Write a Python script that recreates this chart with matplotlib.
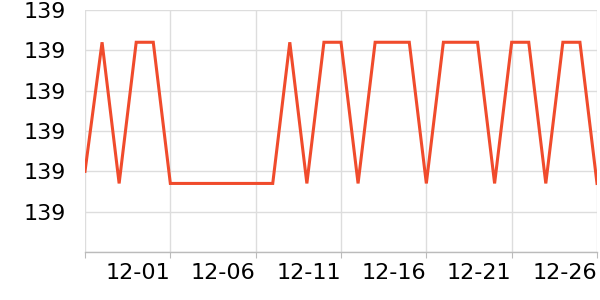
import numpy as np
import matplotlib
matplotlib.use('Agg')
import matplotlib.pyplot as plt
from matplotlib.ticker import FuncFormatter

# --- Data ---
dates = ['11-26', '11-27', '11-28', '11-29', '11-30', '12-01', '12-02', '12-03',
         '12-04', '12-05', '12-06', '12-07', '12-08', '12-09', '12-10', '12-11',
         '12-12', '12-13', '12-14', '12-15', '12-16', '12-17', '12-18', '12-19',
         '12-20', '12-21', '12-22', '12-23', '12-24', '12-25', '12-26']
values = [138.990, 139.022, 138.987, 139.022, 139.022, 138.987, 138.987, 138.987,
          138.987, 138.987, 138.987, 138.987, 139.022, 138.987, 139.022, 139.022,
          138.987, 139.022, 139.022, 139.022, 138.987, 139.022, 139.022, 139.022,
          138.987, 139.022, 139.022, 138.987, 139.022, 139.022, 138.987]
y_ticks = [138.97, 138.98, 138.99, 139.00, 139.01, 139.02, 139.03]

x = np.arange(len(dates))

fig = plt.figure(figsize=(6, 3), dpi=100)
ax = fig.add_axes([85 / 600, 48 / 300, 512 / 600, 242 / 300])

ax.plot(x, values, color='#f04b2c', linewidth=2.2, solid_joinstyle='miter', zorder=3)

ax.set_xlim(0, len(dates) - 1)
ax.set_ylim(y_ticks[0], y_ticks[-1])

# ticks every 5 days, first one without a label
tick_idx = list(range(0, len(dates), 5))
ax.set_xticks(tick_idx)
ax.set_xticklabels([''] + [dates[i] for i in tick_idx[1:]], ha='right')
ax.set_yticks(y_ticks)
ax.yaxis.set_major_formatter(FuncFormatter(lambda v, p: '' if p == 0 else f'{v:.0f}'))

ax.grid(True, color='#dddddd', linewidth=1)
ax.set_axisbelow(True)
for side in ['top', 'right', 'left']:
    ax.spines[side].set_visible(False)
ax.spines['bottom'].set_color('#bbbbbb')
ax.spines['bottom'].set_linewidth(1)

ax.tick_params(axis='x', colors='#bbbbbb', labelcolor='black', labelsize=16, length=4, pad=4)
ax.tick_params(axis='y', length=0, labelsize=16, pad=14)

plt.savefig('out.png', dpi=100)
